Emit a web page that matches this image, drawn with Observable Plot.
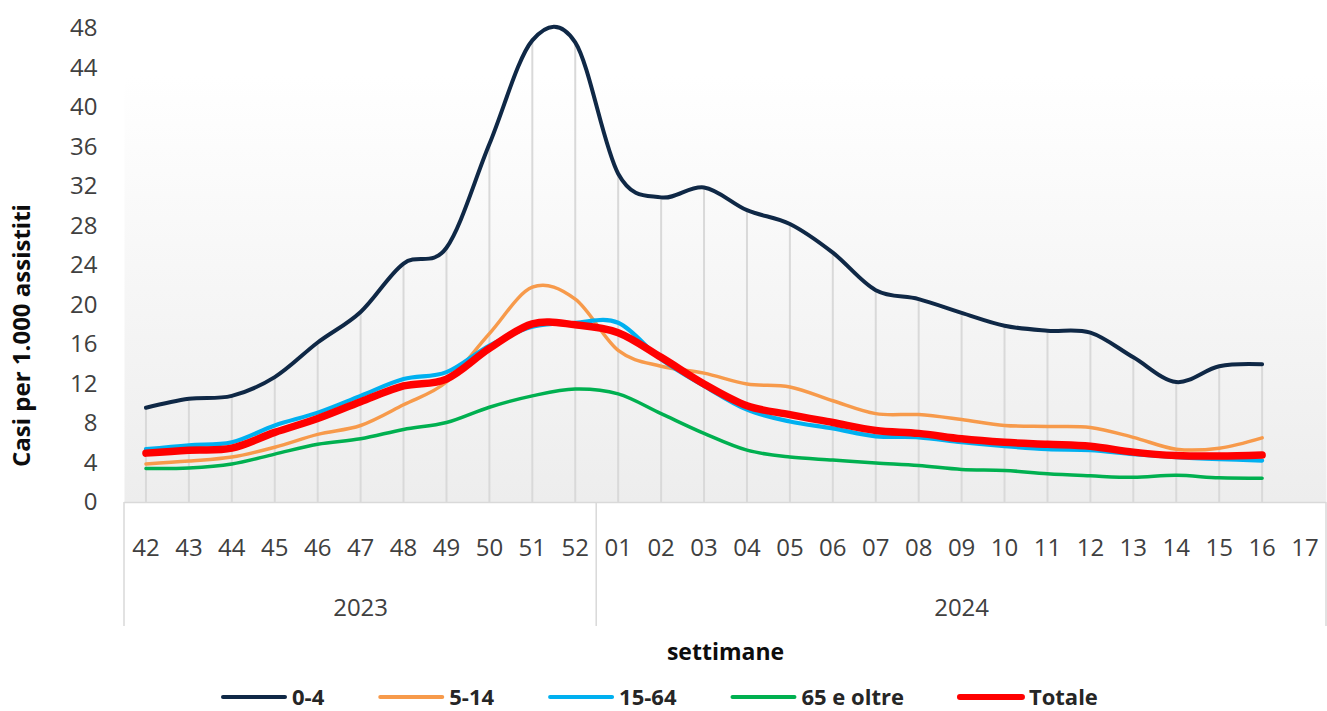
<!DOCTYPE html>
<html><head><meta charset="utf-8">
<script src="https://cdn.jsdelivr.net/npm/d3@7"></script>
<script src="https://cdn.jsdelivr.net/npm/@observablehq/plot@0.6"></script>
<style>body{margin:0;background:#fff;font-family:"Open Sans",sans-serif}</style>
</head><body><div id="chart"></div>
<script>
const weeks = ["42","43","44","45","46","47","48","49","50","51","52","01","02","03","04","05","06","07","08","09","10","11","12","13","14","15","16","17"];
const years = ["2023","2024"];
const yearFirst = [0, 11];
const yearLast = [10, 27];
const yTicks = [0,4,8,12,16,20,24,28,32,36,40,44,48];
const seriesNames = ["0-4","5-14","15-64","65 e oltre","Totale"];
const seriesColors = ["#0f2846","#f79a4b","#00b0f0","#00b050","#ff0000"];
const seriesWidths = [4,3.5,4.2,3.5,7.5];
const v0_4 = [9.6,10.5,10.8,12.7,16.2,19.3,24.2,25.8,36.3,46.8,46.6,33.3,30.9,31.9,29.6,28.2,25.3,21.5,20.6,19.2,17.9,17.4,17.2,14.7,12.2,13.8,14.0];
const v5_14 = [3.9,4.2,4.6,5.6,6.9,7.8,9.9,12.2,17.1,21.8,20.6,15.4,13.8,13.1,12.0,11.7,10.3,9.0,8.9,8.4,7.8,7.7,7.6,6.6,5.4,5.5,6.55];
const v15_64 = [5.4,5.8,6.1,7.8,9.1,10.8,12.5,13.2,15.9,17.8,18.2,18.2,14.5,11.8,9.4,8.2,7.5,6.7,6.6,6.1,5.7,5.4,5.3,4.9,4.6,4.4,4.25];
const v65 = [3.45,3.5,3.9,4.9,5.9,6.45,7.4,8.1,9.65,10.8,11.5,11.0,9.0,7.0,5.3,4.6,4.3,4.0,3.75,3.35,3.25,2.9,2.7,2.55,2.75,2.5,2.45];
const vTot = [5.0,5.3,5.5,7.1,8.5,10.2,11.8,12.5,15.6,18.1,18.0,17.2,14.7,12.0,9.8,8.9,8.1,7.3,7.0,6.45,6.1,5.9,5.7,5.1,4.75,4.7,4.8];
const seriesValues = [v0_4, v5_14, v15_64, v65, vTot];

const rows = [];
seriesValues.forEach((vals, s) => vals.forEach((v, i) => rows.push({i, v, s: seriesNames[s]})));
const drops = v0_4.map((_, i) => ({i, top: d3.max(seriesValues, a => a[i])}));
const weekRows = weeks.map((w, i) => ({i, w}));
const yearRows = years.map((y, k) => ({y, c: (yearFirst[k] + yearLast[k]) / 2}));

const W = 1327, H = 711;
const plot = Plot.plot({
  width: W, height: H,
  marginLeft: 124, marginRight: 1, marginTop: 28, marginBottom: 209,
  style: {fontFamily: "'Open Sans', sans-serif", fontSize: "24px", color: "#404040", background: "#fff"},
  x: {type: "linear", domain: [-0.5, weeks.length - 0.5], axis: null},
  y: {domain: [0, 48], ticks: yTicks, tickSize: 0, tickPadding: 27, label: null, tickFormat: d => d},
  marks: [
    Plot.frame({fill: "url(#bggrad)", stroke: "none"}),
    Plot.ruleX(drops, {x: "i", y1: 0, y2: "top", stroke: "#d9d9d9", strokeWidth: 2}),
    Plot.ruleY([0], {stroke: "#d9d9d9", strokeWidth: 1.5}),
    ...seriesNames.map((name, s) => Plot.line(rows.filter(r => r.s === name), {
      x: "i", y: "v", stroke: seriesColors[s], strokeWidth: seriesWidths[s],
      curve: "cardinal", strokeLinecap: "round", strokeLinejoin: "round"
    })),
    Plot.text(weekRows, {x: "i", text: "w", frameAnchor: "bottom", dy: 46, lineAnchor: "middle", fill: "#404040", fontSize: 24}),
    Plot.text(yearRows, {x: "c", text: "y", frameAnchor: "bottom", dy: 106, lineAnchor: "middle", fill: "#404040", fontSize: 24}),
    Plot.text(["Casi per 1.000 assistiti"], {frameAnchor: "left", dx: -102, dy: 70, rotate: -90, textAnchor: "middle", lineAnchor: "middle", fontWeight: "bold", fontSize: 24, fill: "#0d0d0d"}),
    Plot.text(["settimane"], {frameAnchor: "bottom", dy: 150, textAnchor: "middle", lineAnchor: "middle", fontWeight: "bold", fontSize: 23, fill: "#0d0d0d"})
  ]
});

const svg = d3.select(plot);
const defs = svg.insert("defs", ":first-child");
const g = defs.append("linearGradient").attr("id", "bggrad").attr("x1", 0).attr("y1", 0).attr("x2", 0).attr("y2", 1);
g.append("stop").attr("offset", "0%").attr("stop-color", "#ffffff");
g.append("stop").attr("offset", "10%").attr("stop-color", "#ffffff");
g.append("stop").attr("offset", "100%").attr("stop-color", "#ededed");

// category table borders
const xs = plot.scale("x"), ys = plot.scale("y");
const y0 = ys.apply(0);
const borders = [-0.5, yearLast[0] + 0.5, weeks.length - 0.5];
svg.append("g").selectAll("line").data(borders).join("line")
  .attr("x1", d => xs.apply(d)).attr("x2", d => xs.apply(d))
  .attr("y1", y0).attr("y2", y0 + 124)
  .attr("stroke", "#d9d9d9").attr("stroke-width", 1.5);

document.getElementById("chart").appendChild(plot);

// legend
const leg = svg.append("g").attr("font-family", "'Open Sans', sans-serif").attr("font-size", 22)
  .attr("font-weight", "bold").attr("fill", "#262626").attr("text-anchor", "start");
let lx = 223;
const ly = 697;
seriesNames.forEach((name, s) => {
  leg.append("line").attr("x1", lx).attr("x2", lx + 62).attr("y1", ly).attr("y2", ly)
    .attr("stroke", seriesColors[s]).attr("stroke-width", s === 4 ? 6 : 4).attr("stroke-linecap", "round");
  const t = leg.append("text").attr("x", lx + 69).attr("y", ly).attr("dy", "0.35em").attr("text-anchor", "start").text(name);
  lx += 69 + t.node().getComputedTextLength() + 56;
});
</script></body></html>
